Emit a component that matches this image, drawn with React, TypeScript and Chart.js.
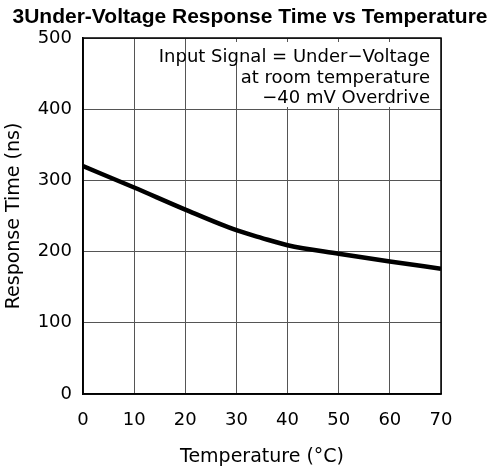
import React, { useEffect, useRef } from "react";
import { Chart, registerables } from "chart.js";

Chart.register(...registerables);

const titleText = "3Under-Voltage Response Time vs Temperature";
const xAxisTitle = "Temperature (°C)";
const yAxisTitle = "Response Time (ns)";
const noteLines = ["Input Signal = Under\u2212Voltage", "at room temperature", "\u221240 mV Overdrive"];

const temperatures = [0, 10, 20, 30, 35, 40, 50, 60, 70];
const responseTimes = [320, 290, 259, 230, 219, 209, 197, 186, 176];

const xTicks = [0, 10, 20, 30, 40, 50, 60, 70];
const yTicks = [0, 100, 200, 300, 400, 500];

const tickFont = { family: "DejaVu Sans", size: 18 };

const framePlugin = {
  id: "frameAndNote",
  afterDraw(chart: any) {
    const { ctx, chartArea, width } = chart;
    const { left, top, right, bottom } = chartArea;
    ctx.save();
    // title
    ctx.fillStyle = "#000";
    ctx.font = "bold 21px 'Liberation Sans'";
    ctx.textAlign = "center";
    ctx.textBaseline = "middle";
    ctx.fillText(titleText, width / 2, 17);
    // white boxes behind the note
    ctx.fillStyle = "#ffffff";
    ctx.fillRect(225, top + 4, right - 225 - 3, 21);
    ctx.fillRect(240, top + 25, right - 240 - 3, 44);
    // frame
    ctx.strokeStyle = "#000";
    ctx.lineWidth = 1.5;
    ctx.strokeRect(left, top, right - left, bottom - top);
    // note text
    ctx.fillStyle = "#000";
    ctx.font = "18px 'DejaVu Sans'";
    ctx.textAlign = "right";
    ctx.textBaseline = "alphabetic";
    noteLines.forEach((line, i) => {
      ctx.fillText(line, right - 11, top + 24 + i * 20.5);
    });
    ctx.restore();
  },
};

export default function App() {
  const canvasRef = useRef<HTMLCanvasElement | null>(null);

  useEffect(() => {
    const canvas = canvasRef.current;
    if (!canvas) return;
    const chart = new Chart(canvas, {
      type: "line",
      data: {
        datasets: [
          {
            data: temperatures.map((t, i) => ({ x: t, y: responseTimes[i] })),
            borderColor: "#000",
            borderWidth: 4.5,
            pointRadius: 0,
            fill: false,
            cubicInterpolationMode: "monotone",
          },
        ],
      },
      options: {
        animation: false,
        responsive: false,
        maintainAspectRatio: false,
        layout: { padding: { left: 0, right: 59, top: 38, bottom: 0 } },
        plugins: {
          legend: { display: false },
          tooltip: { enabled: false },
          title: { display: false },
        },
        scales: {
          x: {
            type: "linear",
            min: 0,
            max: 70,
            afterBuildTicks: (scale: any) => {
              scale.ticks = xTicks.map((v) => ({ value: v }));
            },
            afterFit: (scale: any) => {
              scale.height = 76;
            },
            ticks: { color: "#000", font: tickFont, padding: 16, maxRotation: 0 },
            grid: { color: "#555", lineWidth: 1, drawTicks: false },
            border: { color: "#000", width: 1.5 },
            title: {
              display: true,
              text: xAxisTitle,
              color: "#000",
              font: { family: "DejaVu Sans", size: 19 },
              padding: { top: 0, bottom: 1.6 },
            },
          },
          y: {
            type: "linear",
            min: 0,
            max: 500,
            afterBuildTicks: (scale: any) => {
              scale.ticks = yTicks.map((v) => ({ value: v }));
            },
            afterFit: (scale: any) => {
              scale.width = 83;
            },
            ticks: { color: "#000", font: tickFont, padding: 11 },
            grid: { color: "#555", lineWidth: 1, drawTicks: false },
            border: { color: "#000", width: 1.5 },
            title: {
              display: true,
              text: yAxisTitle,
              color: "#000",
              font: { family: "DejaVu Sans", size: 19 },
              padding: { top: 2.6, bottom: 0 },
            },
          },
        },
      },
      plugins: [framePlugin],
    } as any);
    return () => chart.destroy();
  }, []);

  return (
    <div style={{ position: "absolute", left: 0, top: 0, width: 500, height: 470, background: "#fff" }}>
      <canvas ref={canvasRef} width={500} height={470} style={{ width: 500, height: 470 }} />
    </div>
  );
}
